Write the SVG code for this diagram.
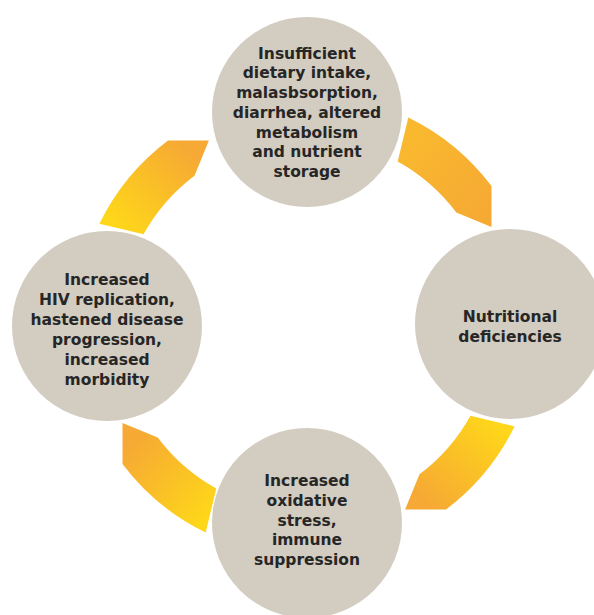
<svg xmlns="http://www.w3.org/2000/svg" xmlns:xlink="http://www.w3.org/1999/xlink" width="594" height="615" viewBox="0 0 594 615">
  <style>
    .node { fill: #d3ccc0; }
    .lbl { font-family: "DejaVu Sans", "Liberation Sans", sans-serif; font-weight: 700; font-size: 15.5px; fill: #262626; text-anchor: middle; }
  </style>
  <defs>
    <linearGradient id="gOrange" gradientUnits="userSpaceOnUse" x1="403" y1="140" x2="480" y2="210">
      <stop offset="0" stop-color="#f9b92e"/>
      <stop offset="1" stop-color="#f6aa33"/>
    </linearGradient>
    <linearGradient id="gYellow" gradientUnits="userSpaceOnUse" x1="403" y1="140" x2="480" y2="210">
      <stop offset="0" stop-color="#fed61a"/>
      <stop offset="1" stop-color="#f6a934"/>
    </linearGradient>
    <path id="arrowShape" d="M 408.3,117.4 A 231 231 0 0 1 491.5,186.0 L 491.5,226.9 L 456.3,212.5 A 187 187 0 0 0 397.7,161.5 Z"/>
  </defs>
  <rect x="0" y="0" width="594" height="615" fill="#ffffff"/>
  <g id="connectors">
    <use xlink:href="#arrowShape" href="#arrowShape" fill="url(#gOrange)"/>
    <use xlink:href="#arrowShape" href="#arrowShape" fill="url(#gYellow)" transform="rotate(90 307 325)"/>
    <use xlink:href="#arrowShape" href="#arrowShape" fill="url(#gYellow)" transform="rotate(180 307 325)"/>
    <use xlink:href="#arrowShape" href="#arrowShape" fill="url(#gYellow)" transform="rotate(270 307 325)"/>
  </g>
  <g id="node-top">
    <circle class="node" cx="307" cy="112" r="95"/>
    <text class="lbl" x="307" y="58.5">Insufficient</text>
    <text class="lbl" x="307" y="78.2">dietary intake,</text>
    <text class="lbl" x="307" y="98">malasbsorption,</text>
    <text class="lbl" x="307" y="117.7">diarrhea, altered</text>
    <text class="lbl" x="307" y="137.5">metabolism</text>
    <text class="lbl" x="307" y="157.2">and nutrient</text>
    <text class="lbl" x="307" y="177">storage</text>
  </g>
  <g id="node-right">
    <circle class="node" cx="510" cy="324" r="95"/>
    <text class="lbl" x="510" y="321.7">Nutritional</text>
    <text class="lbl" x="510" y="341.7">deficiencies</text>
  </g>
  <g id="node-bottom">
    <circle class="node" cx="307" cy="523" r="95"/>
    <text class="lbl" x="307" y="486">Increased</text>
    <text class="lbl" x="307" y="505.7">oxidative</text>
    <text class="lbl" x="307" y="525.5">stress,</text>
    <text class="lbl" x="307" y="545.2">immune</text>
    <text class="lbl" x="307" y="565">suppression</text>
  </g>
  <g id="node-left">
    <circle class="node" cx="107" cy="326" r="95"/>
    <text class="lbl" x="107" y="285">Increased</text>
    <text class="lbl" x="107" y="305">HIV replication,</text>
    <text class="lbl" x="107" y="325">hastened disease</text>
    <text class="lbl" x="107" y="345">progression,</text>
    <text class="lbl" x="107" y="365">increased</text>
    <text class="lbl" x="107" y="385">morbidity</text>
  </g>
</svg>
